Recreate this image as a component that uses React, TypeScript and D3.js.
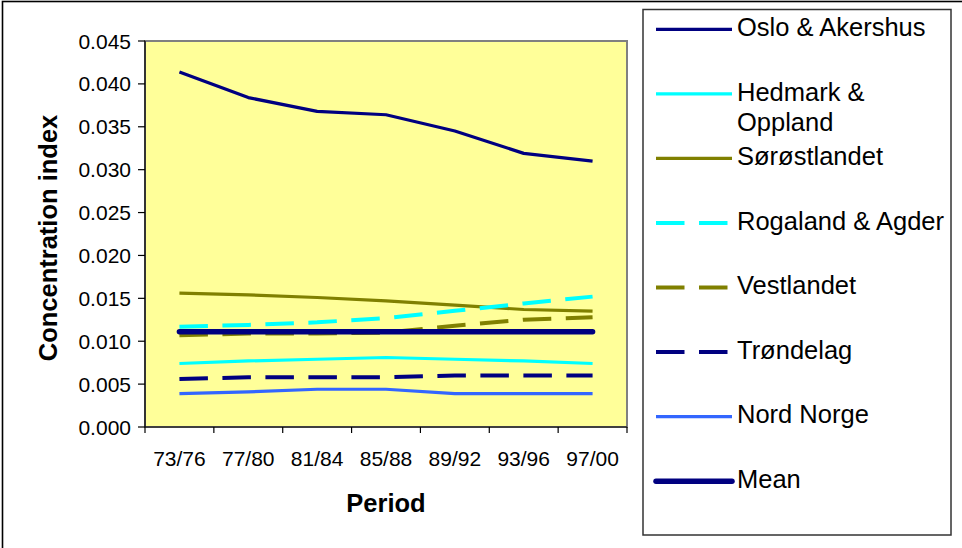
import React from "react";
import * as d3 from "d3";

const periods = ["73/76", "77/80", "81/84", "85/88", "89/92", "93/96", "97/00"];
const osloAkershus = [0.0414, 0.0384, 0.0368, 0.0364, 0.0345, 0.0319, 0.031];
const hedmarkOppland = [0.0074, 0.0077, 0.0079, 0.0081, 0.0079, 0.0077, 0.0074];
const sorostlandet = [0.0156, 0.0154, 0.0151, 0.0147, 0.0142, 0.0137, 0.0135];
const rogalandAgder = [0.0117, 0.0119, 0.0122, 0.0127, 0.01355, 0.0144, 0.0152];
const vestlandet = [0.0107, 0.0109, 0.0109, 0.011, 0.0118, 0.0125, 0.0128];
const trondelag = [0.0056, 0.0058, 0.0058, 0.0058, 0.006, 0.006, 0.006];
const nordNorge = [0.0039, 0.0041, 0.0044, 0.0044, 0.0039, 0.0039, 0.0039];
const mean = [0.0111, 0.0111, 0.0111, 0.0111, 0.0111, 0.0111, 0.0111];
const yTicks = [0, 0.005, 0.01, 0.015, 0.02, 0.025, 0.03, 0.035, 0.04, 0.045];

const series = [
  { name: ["Oslo & Akershus"], values: osloAkershus, color: "#000080", width: 3.2, dash: null, cap: "butt" },
  { name: ["Hedmark &", "Oppland"], values: hedmarkOppland, color: "#00FFFF", width: 3.2, dash: null, cap: "butt" },
  { name: ["Sørøstlandet"], values: sorostlandet, color: "#808000", width: 3.2, dash: null, cap: "butt" },
  { name: ["Rogaland & Agder"], values: rogalandAgder, color: "#00FFFF", width: 4, dash: "28.5,14.5", cap: "butt" },
  { name: ["Vestlandet"], values: vestlandet, color: "#808000", width: 4, dash: "28.5,14.5", cap: "butt" },
  { name: ["Trøndelag"], values: trondelag, color: "#000080", width: 4, dash: "28.5,14.5", cap: "butt" },
  { name: ["Nord Norge"], values: nordNorge, color: "#3366FF", width: 3.2, dash: null, cap: "butt" },
  { name: ["Mean"], values: mean, color: "#000080", width: 5.5, dash: null, cap: "round" },
];

const FONT = "'Liberation Sans', Arial, sans-serif";
const W = 962;
const H = 548;
const plot = { left: 145, right: 627, top: 41, bottom: 427 };

export default function App() {
  const x = d3.scaleBand<string>().domain(periods).range([plot.left, plot.right]).padding(0);
  const y = d3.scaleLinear().domain([0, 0.045]).range([plot.bottom, plot.top]);
  const cx = (p: string) => (x(p) as number) + x.bandwidth() / 2;
  const line = d3
    .line<number>()
    .x((_, i) => cx(periods[i]))
    .y((v) => y(v));
  const fmt = d3.format(".3f");
  const bounds = [...periods.map((p) => x(p) as number), plot.right];

  const legendX0 = 656;
  const legendX1 = 732;
  const legendY0 = 29.3;
  const legendStep = 64.55;

  return (
    <div style={{ position: "absolute", left: 0, top: 0, width: W, height: H, background: "#fff" }}>
      <svg width={W} height={H} style={{ display: "block" }} fontFamily={FONT}>
        <rect x={0} y={0} width={W} height={H} fill="#fff" />
        <rect x={2.5} y={1.5} width={1000} height={600} fill="none" stroke="#000" strokeWidth={1.6} />

        {/* plot area */}
        <rect
          x={plot.left}
          y={plot.top}
          width={plot.right - plot.left}
          height={plot.bottom - plot.top}
          fill="#FFFF99"
          stroke="#808080"
          strokeWidth={2}
        />
        <line x1={plot.left} x2={plot.left} y1={plot.top} y2={plot.bottom} stroke="#000" strokeWidth={1.2} />
        <line x1={plot.left} x2={plot.right} y1={plot.bottom} y2={plot.bottom} stroke="#000" strokeWidth={1.2} />

        {/* y ticks */}
        {yTicks.map((t) => (
          <g key={t}>
            <line x1={plot.left - 7} x2={plot.left} y1={y(t)} y2={y(t)} stroke="#000" strokeWidth={1.2} />
            <text x={131} y={y(t)} dy="0.36em" textAnchor="end" fontSize={21} fill="#000">
              {fmt(t)}
            </text>
          </g>
        ))}

        {/* x ticks */}
        {bounds.map((b, i) => (
          <line key={i} x1={b} x2={b} y1={plot.bottom} y2={plot.bottom + 6} stroke="#000" strokeWidth={1.2} />
        ))}
        {periods.map((p) => (
          <text key={p} x={cx(p)} y={466} textAnchor="middle" fontSize={21} fill="#000">
            {p}
          </text>
        ))}

        {/* axis titles */}
        <text x={(plot.left + plot.right) / 2} y={512} textAnchor="middle" fontSize={25.5} fontWeight="bold" fill="#000">
          Period
        </text>
        <text
          transform={`translate(57,${(plot.top + plot.bottom) / 2 + 4}) rotate(-90)`}
          textAnchor="middle"
          fontSize={25.5}
          fontWeight="bold"
          fill="#000"
        >
          Concentration index
        </text>

        {/* series */}
        {series.map((s, i) => (
          <path
            key={i}
            d={line(s.values) as string}
            fill="none"
            stroke={s.color}
            strokeWidth={s.width}
            strokeDasharray={s.dash ?? undefined}
            strokeLinecap={s.cap as any}
            strokeLinejoin="round"
          />
        ))}

        {/* legend */}
        <rect x={643} y={9.5} width={308} height={525.5} fill="#fff" stroke="#333" strokeWidth={1.5} />
        {series.map((s, i) => {
          const ly = legendY0 + i * legendStep;
          return (
            <g key={i}>
              <line
                x1={legendX0}
                x2={legendX1}
                y1={ly}
                y2={ly}
                stroke={s.color}
                strokeWidth={s.width}
                strokeDasharray={s.dash ?? undefined}
                strokeLinecap={s.cap as any}
              />
              {s.name.map((n, j) => (
                <text key={j} x={737} y={ly + 6.8 + j * 30} fontSize={25.5} fill="#000">
                  {n}
                </text>
              ))}
            </g>
          );
        })}
      </svg>
    </div>
  );
}
